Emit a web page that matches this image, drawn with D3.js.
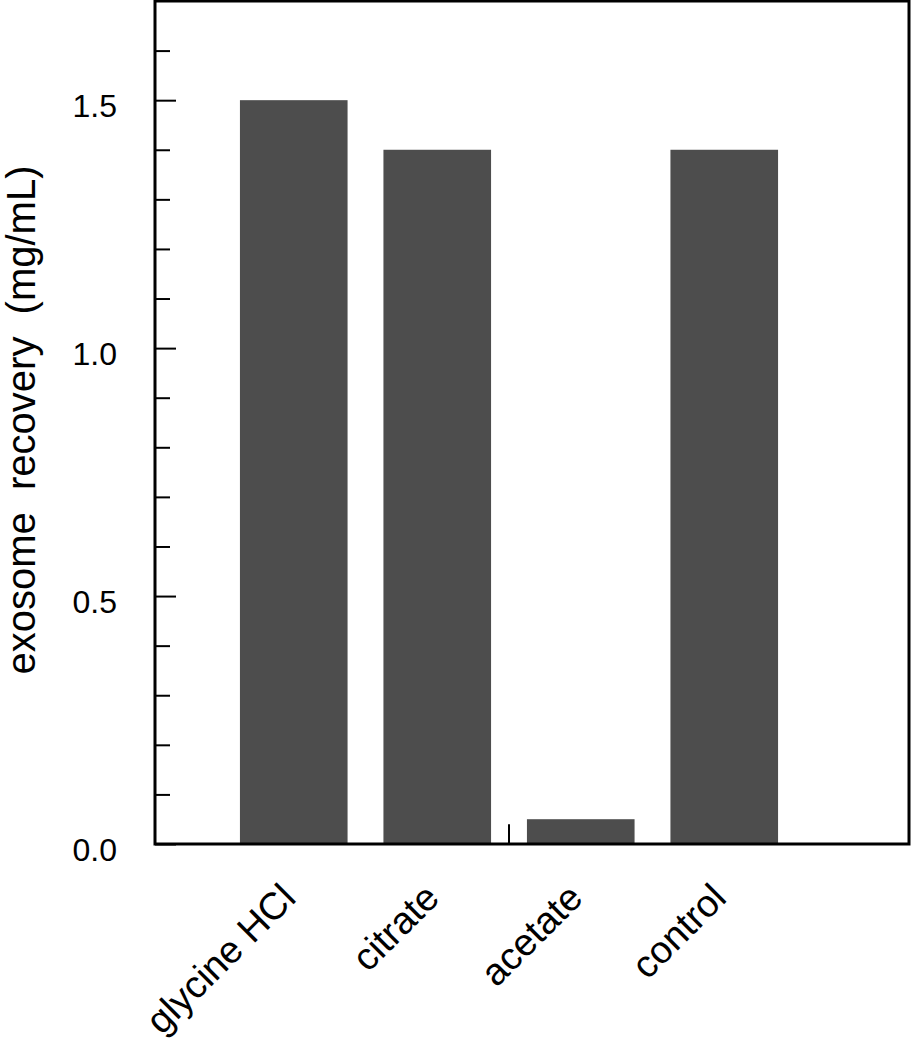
<!DOCTYPE html>
<html>
<head>
<meta charset="utf-8">
<script src="https://cdn.jsdelivr.net/npm/d3@7"></script>
<style>
  body { margin: 0; background: #fff; }
  text { font-family: "Liberation Sans", Arial, sans-serif; }
</style>
</head>
<body>
<svg id="chart" width="912" height="1050"></svg>
<script>
const categories = ["glycine HCl", "citrate", "acetate", "control"];
const values = [1.5, 1.4, 0.05, 1.4];
const majorTicks = [0.0, 0.5, 1.0, 1.5];
const minorTicks = [0.1, 0.2, 0.3, 0.4, 0.6, 0.7, 0.8, 0.9, 1.1, 1.2, 1.3, 1.4, 1.6];
// stray mark between citrate and acetate
const markValue = 0.04;

const svg = d3.select("#chart");
const plotLeft = 155, plotRight = 909, plotTop = 1, plotBottom = 844;

const x = d3.scaleBand()
  .domain(categories)
  .range([222, 796])
  .paddingInner(0.25)
  .paddingOuter(0.125);

const y = d3.scaleLinear().domain([0, 1.7]).range([plotBottom, plotTop]);

svg.selectAll("rect.bar")
  .data(values)
  .enter()
  .append("rect")
  .attr("class", "bar")
  .attr("x", (d, i) => x(categories[i]))
  .attr("width", x.bandwidth())
  .attr("y", (d) => y(d))
  .attr("height", (d) => y(0) - y(d))
  .attr("fill", "#4d4d4d");

// small vertical mark at the citrate/acetate boundary
const markX = (x("citrate") + x.bandwidth() + x("acetate")) / 2;
svg.append("line")
  .attr("x1", markX).attr("x2", markX)
  .attr("y1", y(0)).attr("y2", y(markValue))
  .attr("stroke", "black")
  .attr("stroke-width", 2);

// frame
svg.append("rect")
  .attr("x", plotLeft).attr("y", plotTop)
  .attr("width", plotRight - plotLeft).attr("height", plotBottom - plotTop)
  .attr("fill", "none")
  .attr("stroke", "black")
  .attr("stroke-width", 3);

const yAxis = d3.axisRight(y).tickValues(majorTicks).tickSize(21).tickFormat("");
svg.append("g")
  .attr("transform", `translate(${plotLeft},0)`)
  .call(yAxis)
  .call((g) => g.select(".domain").remove())
  .call((g) => g.selectAll("line").attr("stroke-width", 2));

const yMinor = d3.axisRight(y).tickValues(minorTicks).tickSize(15).tickFormat("");
svg.append("g")
  .attr("transform", `translate(${plotLeft},0)`)
  .call(yMinor)
  .call((g) => g.select(".domain").remove())
  .call((g) => g.selectAll("line").attr("stroke-width", 2));

svg.selectAll("text.ylab")
  .data(majorTicks)
  .enter()
  .append("text")
  .attr("class", "ylab")
  .attr("x", 117)
  .attr("y", (d) => y(d) + 5)
  .attr("dy", "0.36em")
  .attr("text-anchor", "end")
  .attr("font-size", 32)
  .text((d) => d.toFixed(1));

svg.append("text")
  .attr("transform", `translate(35,420) rotate(-90)`)
  .attr("text-anchor", "middle")
  .attr("font-size", 40)
  .attr("xml:space", "preserve")
  .style("white-space", "pre")
  .text("exosome  recovery  (mg/mL)");

svg.selectAll("text.xlab")
  .data(categories)
  .enter()
  .append("text")
  .attr("class", "xlab")
  .attr("transform", (d) => `translate(${x(d) + x.bandwidth() / 2 + 4},${plotBottom + 56}) rotate(-45)`)
  .attr("text-anchor", "end")
  .attr("font-size", 38)
  .text((d) => d);
</script>
</body>
</html>
